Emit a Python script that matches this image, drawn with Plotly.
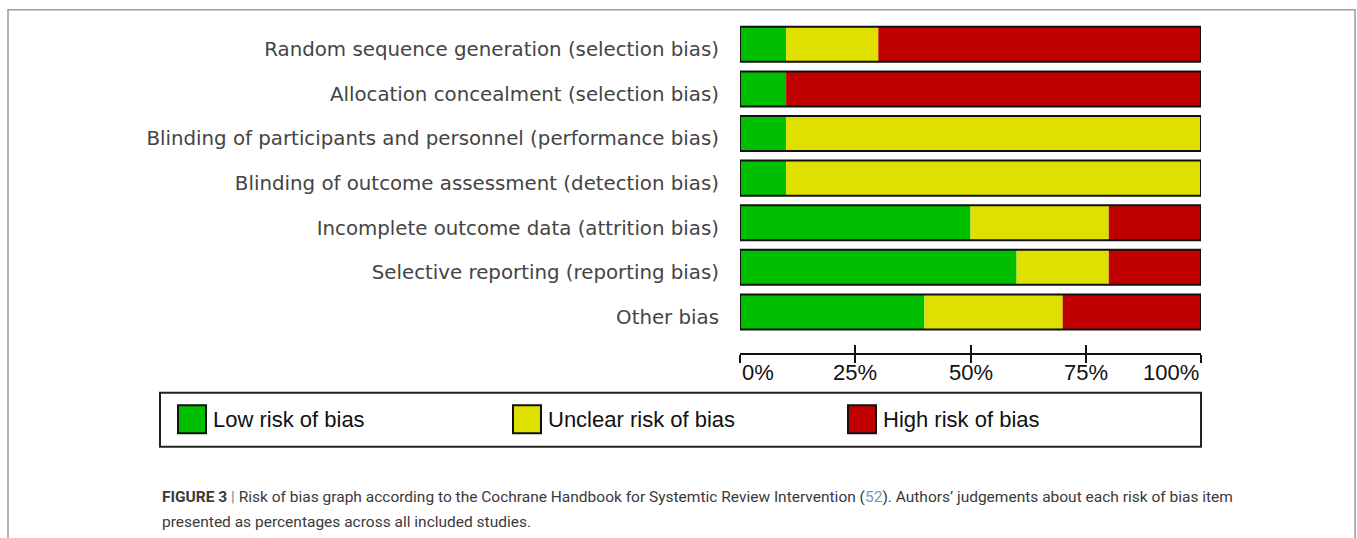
import plotly.graph_objects as go

# ---------------- data ----------------
categories = [
    "Random sequence generation (selection bias)",
    "Allocation concealment (selection bias)",
    "Blinding of participants and personnel (performance bias)",
    "Blinding of outcome assessment (detection bias)",
    "Incomplete outcome data (attrition bias)",
    "Selective reporting (reporting bias)",
    "Other bias",
]
low_risk = [10, 10, 10, 10, 50, 60, 40]
unclear_risk = [20, 0, 90, 90, 30, 20, 30]
high_risk = [70, 90, 0, 0, 20, 20, 30]
tick_values = [0, 25, 50, 75, 100]
tick_labels = ["0%", "25%", "50%", "75%", "100%"]
legend_names = ["Low risk of bias", "Unclear risk of bias", "High risk of bias"]
colors = ["#00BF00", "#E0E000", "#C00000"]

# ---------------- layout geometry (pixels) ----------------
W, H = 1357, 538
PL, PR = 740, 1201          # plot area x
PT, PB = 22.2, 353.3        # plot area y
ML, MR, MT, MB = PL, W - PR, PT, H - PB


def px(xp):
    return (xp - PL) / (PR - PL)


def py(yp):
    return (PB - yp) / (PB - PT)


base_unclear = [a for a in low_risk]
base_high = [a + b for a, b in zip(low_risk, unclear_risk)]
totals = [a + b + c for a, b, c in zip(low_risk, unclear_risk, high_risk)]

fig = go.Figure()
BW = 0.785
for name, vals, base, col in zip(
    legend_names,
    [low_risk, unclear_risk, high_risk],
    [[0] * len(categories), base_unclear, base_high],
    colors,
):
    fig.add_trace(go.Bar(
        y=categories, x=vals, base=base, orientation="h", name=name,
        marker=dict(color=col, line=dict(width=0)), width=BW,
        showlegend=False, hoverinfo="x+y",
    ))

# outline around each whole bar
fig.add_trace(go.Bar(
    y=categories, x=totals, base=[0] * len(categories), orientation="h",
    marker=dict(color="rgba(0,0,0,0)", line=dict(color="#111111", width=2)),
    width=BW, showlegend=False, hoverinfo="skip",
))

font_main = "Liberation Sans, Arial, sans-serif"
font_cat = "DejaVu Sans, Liberation Sans, sans-serif"

fig.update_layout(
    width=W, height=H,
    margin=dict(l=ML, r=MR, t=MT, b=MB, pad=0),
    paper_bgcolor="white", plot_bgcolor="white",
    barmode="overlay",
    showlegend=False,
    xaxis=dict(
        range=[0, 100], showgrid=False, zeroline=False,
        showline=True, linecolor="#111111", linewidth=2,
        ticks="outside", ticklen=8, tickwidth=2, tickcolor="#111111",
        tickvals=tick_values, showticklabels=False, fixedrange=True,
    ),
    xaxis2=dict(
        range=[0, 100], overlaying="x", anchor="y", side="bottom",
        showgrid=False, zeroline=False, showline=False,
        ticks="inside", ticklen=8, tickwidth=2, tickcolor="#111111",
        tickvals=tick_values, showticklabels=False,
    ),
    yaxis=dict(
        type="category", categoryorder="array", categoryarray=categories,
        range=[len(categories) - 0.08, -0.5],
        showgrid=False, zeroline=False, showline=False, ticks="",
        ticklabelstandoff=20, ticklabelshift=-5,
        tickfont=dict(family=font_cat, size=19.8, color="#444444"),
    ),
)

# dummy trace to activate xaxis2
fig.add_trace(go.Scatter(x=[0, 100], y=[categories[0], categories[0]], xaxis="x2",
                         mode="markers", marker=dict(opacity=0), showlegend=False,
                         hoverinfo="skip"))

annotations = []
# x tick labels aligned like the reference
for v, t in zip(tick_values, tick_labels):
    anchor = "left" if v == tick_values[0] else ("right" if v == tick_values[-1] else "center")
    annotations.append(dict(
        x=v, y=0, xref="x", yref="paper", text=t, showarrow=False,
        xanchor=anchor, yanchor="top", yshift=-5,
        font=dict(family=font_main, size=22, color="#111111"),
    ))

shapes = []
# outer figure frame
shapes.append(dict(type="rect", xref="paper", yref="paper",
                   x0=px(8), x1=px(1355), y0=py(10), y1=py(560),
                   line=dict(color="#9a9a9a", width=1.5), fillcolor="rgba(0,0,0,0)", layer="below"))
# legend box
shapes.append(dict(type="rect", xref="paper", yref="paper",
                   x0=px(160), x1=px(1201), y0=py(393), y1=py(447),
                   line=dict(color="#222222", width=2), fillcolor="white"))
legend_sq_x = [178, 513, 848]
for sx, name, col in zip(legend_sq_x, legend_names, colors):
    shapes.append(dict(type="rect", xref="paper", yref="paper",
                       x0=px(sx), x1=px(sx + 28), y0=py(405.5), y1=py(433.5),
                       line=dict(color="#111111", width=2), fillcolor=col))
    annotations.append(dict(
        x=px(sx + 33), y=py(420), xref="paper", yref="paper", text=name,
        showarrow=False, xanchor="left", yanchor="middle",
        font=dict(family=font_main, size=22, color="#111111"),
    ))

# caption
cap_font = dict(family="Roboto, Liberation Sans, sans-serif", size=15.5, color="#3a3a3a")
annotations.append(dict(
    x=px(160), y=py(497), xref="paper", yref="paper", showarrow=False,
    xanchor="left", yanchor="middle", font=cap_font,
    text=("<b>FIGURE 3</b> <span style='color:#888888'>|</span> Risk of bias graph according to the "
          "Cochrane Handbook for Systemtic Review Intervention "
          "(<span style='color:#7a95b8'>52</span>). Authors’ judgements about each risk of bias item"),
))
annotations.append(dict(
    x=px(160), y=py(522), xref="paper", yref="paper", showarrow=False,
    xanchor="left", yanchor="middle", font=cap_font,
    text="presented as percentages across all included studies.",
))

fig.update_layout(annotations=annotations, shapes=shapes)

fig.write_html("out.html", config={"displayModeBar": False},
               post_script="document.body.style.margin='0';document.body.style.overflow='hidden';")
